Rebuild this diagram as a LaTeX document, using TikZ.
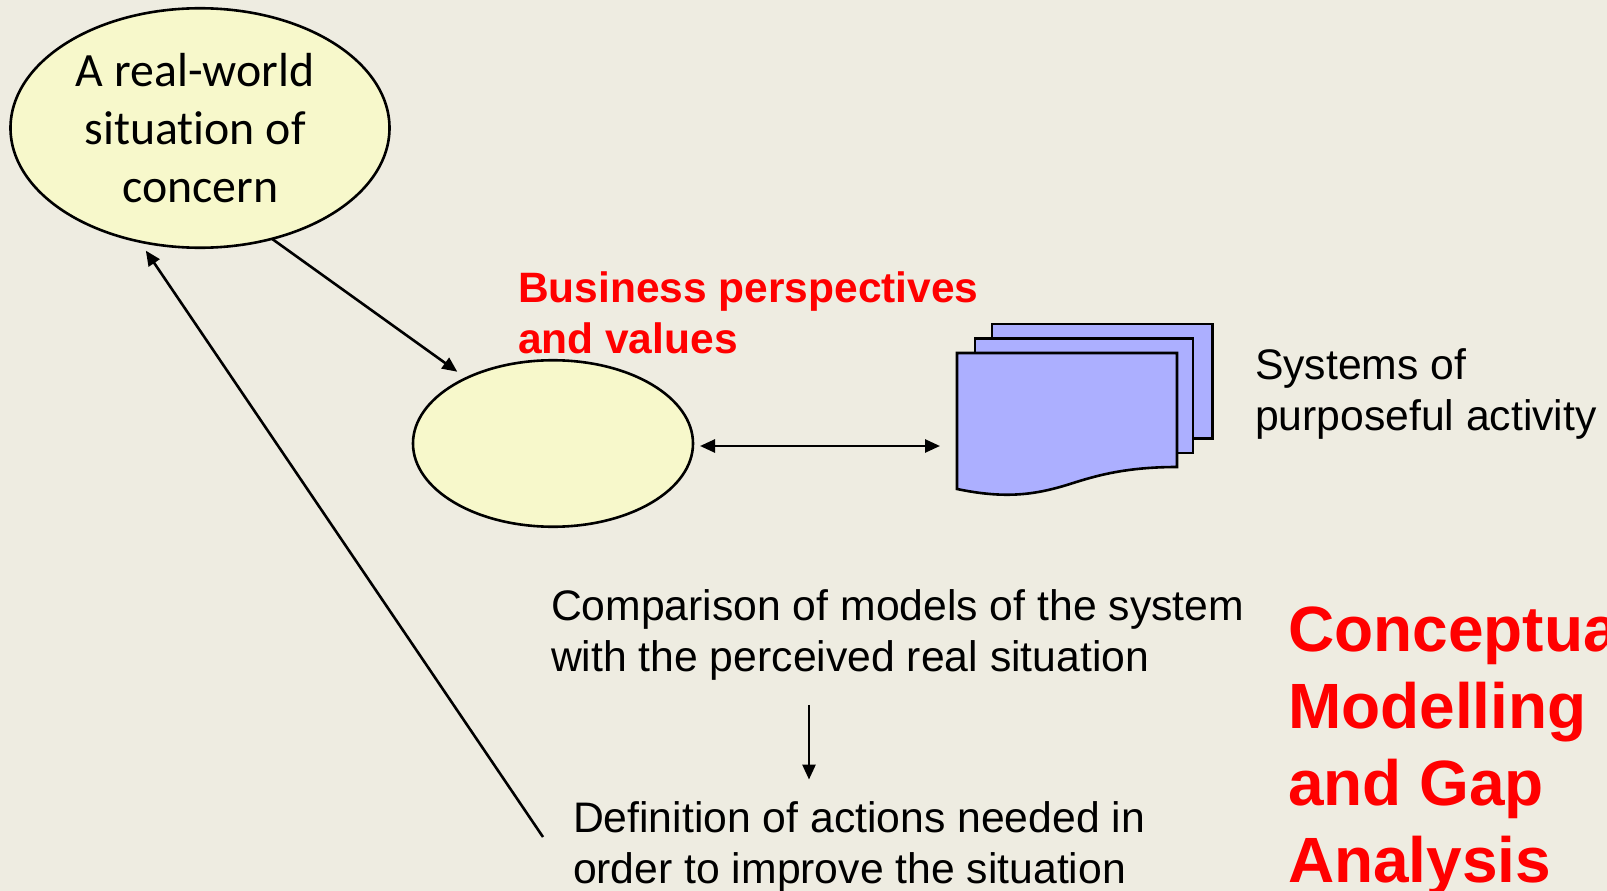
\documentclass[tikz,border=0pt]{standalone}
\usepackage{fontspec}
\setmainfont{Liberation Sans}
\newfontfamily\calib[Ligatures=NoCommon]{Carlito}
\usetikzlibrary{shapes.geometric,arrows.meta}
\definecolor{bgc}{RGB}{238,236,225}
\definecolor{ellc}{RGB}{247,248,203}
\definecolor{docc}{RGB}{172,175,255}
\definecolor{redc}{RGB}{255,0,0}
\tikzset{
  x=1pt,y=-1pt,
  ell/.style={ellipse,draw=black,line width=2.6pt,fill=ellc,inner sep=0pt,outer sep=0pt},
  page/.style={draw=black,line width=2.6pt,fill=docc,line join=miter},
  arr/.style={draw=black,line width=2.6pt,-{Triangle[length=15pt,width=13pt]}},
  darr/.style={draw=black,line width=2.6pt,{Triangle[length=15pt,width=13pt]}-{Triangle[length=15pt,width=13pt]}},
  lab/.style={inner sep=0pt,outer sep=0pt,anchor=base west,align=left,font=\fontsize{42.7}{51}\selectfont},
  redb/.style={lab,text=redc,font=\fontsize{42.5}{51.3}\bfseries\selectfont},
  big/.style={lab,text=redc,font=\fontsize{64}{76.7}\bfseries\selectfont}
}
\begin{document}
\begin{tikzpicture}
\useasboundingbox (0,0) rectangle (1607,891);
\clip (0,0) rectangle (1607,891);
\fill[bgc] (0,0) rectangle (1607,891);
\node[ell,minimum width=379pt,minimum height=239.5pt] (e1) at (200,128) {};
\node[ell,minimum width=280pt,minimum height=166.5pt] (e2) at (553,443.5) {};
\node[inner sep=0pt,outer sep=0pt,anchor=base,align=center,font=\calib\fontsize{47.8}{58}\selectfont] (t1) at (195.2,202) {A real-world\\situation of\\\hspace*{10pt}concern};
\node[redb] (t2) at (518,353.5) {Business perspectives\\and values};
\draw[page] (992,324) -- (1212.5,324) -- (1212.5,438.5) -- (992,438.5) -- cycle;
\draw[page] (975,338.5) -- (1193,338.5) -- (1193,453) -- (975,453) -- cycle;
\draw[page] (957,353) -- (1177,353) -- (1177,467) .. controls (1125,467) and (1095,476) .. (1070,484) .. controls (1035,495) and (1005,499) .. (957,489) -- cycle;
\coordinate (doc) at (940,446);
\node[lab] (t3) at (1255,430) {Systems of\\purposeful activity};
\node[lab] (cmp) at (551,671) {Comparison of models of the system\\with the perceived real situation};
\node[lab] (dfn) at (573,883.5) {Definition of actions needed in\\order to improve the situation};
\node[big] (t4) at (1288,882) {Conceptual\\Modelling\\and Gap\\Analysis};
\coordinate (xa) at (809,0);
\coordinate (st) at (543,837);
\draw[arr,shorten >=11pt] (e1.-57.8) -- (e2.143.5);
\draw[darr,shorten <=7pt] (e2.east |- doc) -- (doc);
\draw[arr,shorten <=25pt,shorten >=22pt] (cmp.south -| xa) -- (dfn.north -| xa);
\draw[arr,shorten >=11pt] (st) -- (e1.242.7);
\end{tikzpicture}
\end{document}
